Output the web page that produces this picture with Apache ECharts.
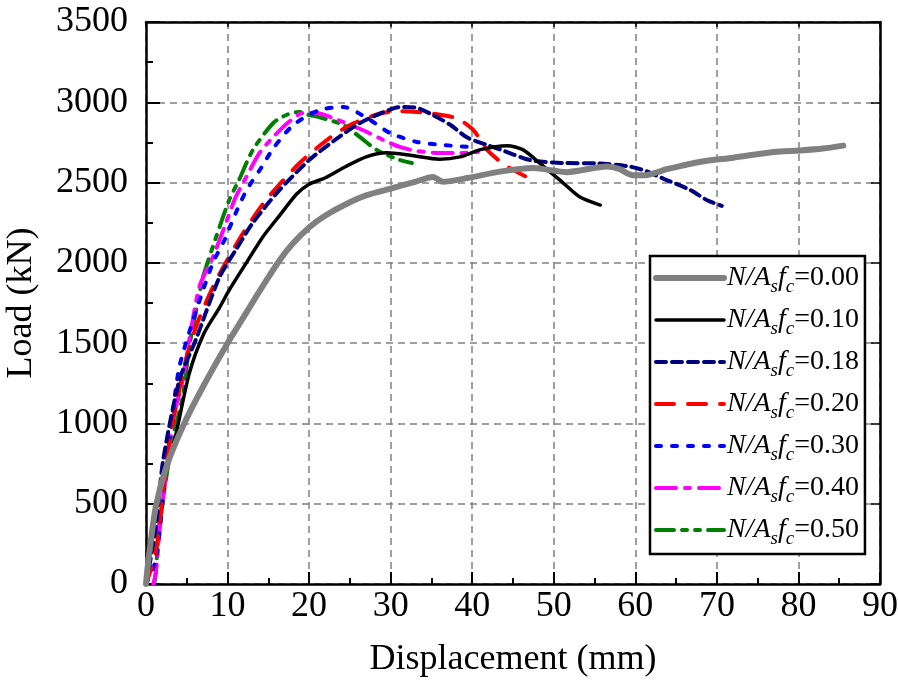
<!DOCTYPE html>
<html>
<head>
<meta charset="utf-8">
<script src="https://cdn.jsdelivr.net/npm/echarts@6/dist/echarts.min.js"></script>
<style>html,body{margin:0;padding:0;background:#fff}#c{width:898px;height:687px}</style>
</head>
<body>
<div id="c"></div>
<script>
// ---- data (displacement in mm, load in kN) ----
const xTicks = [0, 10, 20, 30, 40, 50, 60, 70, 80, 90];
const yTicks = [0, 500, 1000, 1500, 2000, 2500, 3000, 3500];
const seriesNames = ['0.00', '0.10', '0.18', '0.20', '0.30', '0.40', '0.50'];

const x000 = [0,0.3,1.2,2.5,4.5,7,10,12,14,16.3,18,20.1,22,24.5,27,30,33,35.2,36.4,39.4,43.4,47.5,51.6,56.5,58,59.7,61,64,68,72,77,80.2,83,85.5];
const y000 = [0,150,480,730,980,1230,1500,1665,1830,2010,2120,2225,2295,2365,2420,2462,2505,2535,2505,2528,2568,2590,2565,2600,2585,2545,2545,2585,2630,2655,2690,2700,2712,2730];

const x010 = [0,0.8,1.6,3.3,5.3,7.1,9,10.2,12.3,14.3,16.3,18.5,20,22,24.5,27,29.5,32.4,36,38.5,41,44.3,46.2,48.3,51.1,53.2,55.7];
const y010 = [0,300,570,850,1310,1560,1720,1830,2000,2160,2290,2430,2490,2530,2600,2660,2685,2670,2645,2660,2705,2730,2705,2620,2500,2410,2360];

const x018 = [0,1.2,2.1,4.1,6.1,9,11,13.1,16.3,20,23.7,26.2,28.7,31.1,33.2,35.2,37.3,39.4,41.8,44,47.1,51.1,55.3,59.3,61.4,63.4,66.7,68.8,70.6];
const y018 = [0,350,770,1270,1520,1910,2080,2250,2450,2640,2785,2870,2930,2970,2965,2920,2860,2780,2735,2695,2640,2622,2620,2600,2570,2525,2455,2390,2355];

const x020 = [0,1.2,2.9,4.9,6.4,8.7,11.9,14.7,18.8,22.7,25.5,28.7,31,33.2,34.8,38.1,40.1,41.8,44,46.7,48.1];
const y020 = [0,200,900,1395,1640,1900,2185,2390,2620,2785,2870,2930,2945,2940,2933,2900,2830,2705,2610,2535,2522];

const x030 = [0,1.2,2.5,4,5.5,7,8.2,9.6,11,12.3,14.1,15.7,18.1,21.2,24.2,27.1,29.9,33.2,36.4,39.7];
const y030 = [0,150,730,1330,1600,1830,2000,2140,2310,2450,2590,2720,2860,2950,2971,2902,2809,2753,2734,2722];

const x040 = [0.9,1.2,1.8,3.3,4.5,5.5,6.6,8.2,9.8,11,12.3,13.9,15.6,17.5,19.2,20.8,22.9,25,27.1,29.1,31.1,33.2,36,38.5,40.7];
const y040 = [0,70,400,1020,1270,1580,1860,2036,2248,2410,2535,2684,2784,2877,2933,2935,2902,2860,2815,2765,2722,2697,2684,2684,2690];

const x050 = [1,1.2,1.6,2.2,3.3,4.5,5.3,6.4,7,8.6,10.2,11.4,13.1,15.6,17.2,18.8,20,21.2,24.2,26.2,28.3,31.1,32.6];
const y050 = [0,70,355,570,915,1165,1476,1769,1912,2161,2391,2516,2703,2871,2921,2940,2921,2908,2859,2784,2703,2641,2622];

// ---- build ----
const zip = (xs, ys) => xs.map((x, i) => [x, ys[i]]);
const dataSets = [zip(x000,y000), zip(x010,y010), zip(x018,y018), zip(x020,y020), zip(x030,y030), zip(x040,y040), zip(x050,y050)];
const styles = [
  {color:'#808080', width:6, type:'solid'},
  {color:'#000000', width:3.5, type:'solid'},
  {color:'#000080', width:4, type:[10,6]},
  {color:'#FF0000', width:4, type:[18,14]},
  {color:'#0000FF', width:4, type:[5,11]},
  {color:'#FF00FF', width:4, type:[20,9,5,9]},
  {color:'#008000', width:4, type:[18,8,5,8,5,8]}
];
const FONT = '"Liberation Serif", "Times New Roman", serif';

const series = seriesNames.map((n, i) => ({
  name: n,
  type: 'line',
  data: dataSets[i],
  symbol: 'none',
  smooth: 0.25,
  color: styles[i].color,
  lineStyle: {color: styles[i].color, width: styles[i].width, type: styles[i].type, cap: 'round'},
  z: 10 - i
}));

const legendData = seriesNames.map((n, i) => ({
  name: n,
  itemStyle: {opacity: 0},
  lineStyle: {color: styles[i].color, width: styles[i].width, type: styles[i].type, cap: 'round'}
}));

const chart = echarts.init(document.getElementById('c'), null, {renderer: 'canvas'});
chart.setOption({
  animation: false,
  backgroundColor: '#fff',
  grid: {left: 146, right: 18, top: 22, bottom: 103, containLabel: false, outerBoundsMode: 'none'},
  xAxis: [{
    type: 'value', min: 0, max: 90, interval: 10, position: 'bottom',
    name: 'Displacement (mm)', nameLocation: 'middle', nameGap: 58,
    nameTextStyle: {fontFamily: FONT, fontSize: 36, color: '#000'},
    axisLine: {show: true, onZero: false, lineStyle: {color: '#000', width: 2.5}},
    axisTick: {show: true, inside: true, length: 12, lineStyle: {color: '#000', width: 2}},
    minorTick: {show: true, splitNumber: 2, length: 6, lineStyle: {color: '#000', width: 2}},
    axisLabel: {fontFamily: FONT, fontSize: 36, color: '#000', margin: 5,
      formatter: v => xTicks.includes(v) ? String(v) : ''},
    splitLine: {show: true, lineStyle: {color: '#808080', width: 1.5, type: [7,5]}}
  }, {
    type: 'value', min: 0, max: 90, interval: 10, position: 'top',
    axisLine: {show: true, onZero: false, lineStyle: {color: '#000', width: 2.5}},
    axisTick: {show: true, inside: true, length: 5, lineStyle: {color: '#000', width: 1.5}},
    axisLabel: {show: false}, splitLine: {show: false}
  }],
  yAxis: [{
    type: 'value', min: 0, max: 3500, interval: 500, position: 'left',
    name: 'Load (kN)', nameLocation: 'middle', nameGap: 106,
    nameTextStyle: {fontFamily: FONT, fontSize: 36, color: '#000'},
    axisLine: {show: true, onZero: false, lineStyle: {color: '#000', width: 2.5}},
    axisTick: {show: true, inside: true, length: 14, lineStyle: {color: '#000', width: 2}},
    minorTick: {show: true, splitNumber: 2, length: 7, lineStyle: {color: '#000', width: 2}},
    axisLabel: {fontFamily: FONT, fontSize: 36, color: '#000', margin: 18,
      formatter: v => yTicks.includes(v) ? String(v) : ''},
    splitLine: {show: true, lineStyle: {color: '#808080', width: 1.5, type: [7,5]}}
  }, {
    type: 'value', min: 0, max: 3500, interval: 500, position: 'right',
    axisLine: {show: true, onZero: false, lineStyle: {color: '#000', width: 2.5}},
    axisTick: {show: true, inside: true, length: 9, lineStyle: {color: '#000', width: 1.5}},
    axisLabel: {show: false}, splitLine: {show: false}
  }],
  legend: {
    orient: 'vertical', left: 650, top: 256,
    padding: [8, 6, 6, 3],
    itemWidth: 68, itemHeight: 14, itemGap: 10,
    borderColor: '#000', borderWidth: 2.5, backgroundColor: '#fff',
    data: legendData,
    formatter: n => '{i|N/A}{s|s}{i|f}{s|c}{n|=' + n + '}',
    textStyle: {
      fontFamily: FONT, fontSize: 27, color: '#000', padding: [0,0,0,-2],
      rich: {
        i: {fontFamily: FONT, fontSize: 28, fontStyle: 'italic', color: '#000', lineHeight: 36, verticalAlign: 'middle'},
        s: {fontFamily: FONT, fontSize: 19, fontStyle: 'italic', color: '#000', lineHeight: 16, verticalAlign: 'bottom'},
        n: {fontFamily: FONT, fontSize: 28, color: '#000', lineHeight: 36, verticalAlign: 'middle'}
      }
    }
  },
  series: series
});
</script>
</body>
</html>
